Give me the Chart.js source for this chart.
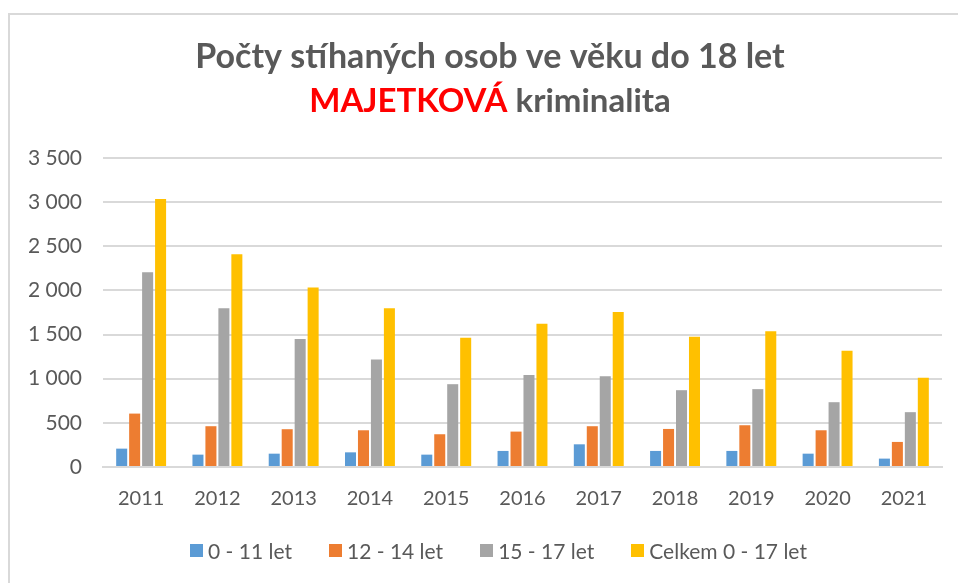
<!DOCTYPE html>
<html lang="cs">

<head>
    <meta charset="UTF-8">
    <title>Počty stíhaných osob - majetková kriminalita</title>
    <style>
        body { margin: 0; background: #fff; overflow: hidden; font-family: Lato, sans-serif; }
        #frame {
            position: absolute; left: 8px; top: 13px; width: 1000px; height: 1000px;
            border: 2px solid #d9d9d9; box-sizing: border-box;
        }
        #wrap { position: absolute; left: 0; top: 0; width: 958px; height: 583px; }
        #legend {
            position: absolute; left: 190px; top: 537px; height: 26px;
            display: flex; align-items: center; gap: 37px;
            color: #595959; font-size: 21px; white-space: nowrap;
        }
        #legend .item { display: flex; align-items: center; }
        #legend .box { width: 13px; height: 13px; margin-right: 5px; }
    </style>
</head>

<body>
    <div id="frame"></div>
    <div id="wrap">
        <canvas id="myChart"></canvas>
    </div>
    <div id="legend"></div>

    <script src="https://cdn.jsdelivr.net/npm/chart.js"></script>
    <script>
        // data
        const years = ["2011", "2012", "2013", "2014", "2015", "2016", "2017", "2018", "2019", "2020", "2021"];
        const age0_11 = [208, 140, 151, 166, 140, 182, 257, 182, 182, 151, 95];
        const age12_14 = [605, 462, 428, 416, 371, 401, 462, 431, 473, 416, 284];
        const age15_17 = [2206, 1797, 1449, 1218, 938, 1041, 1029, 870, 882, 734, 621];
        const total0_17 = [3035, 2410, 2032, 1797, 1464, 1623, 1756, 1476, 1537, 1317, 1010];

        const titleLine1 = "Počty stíhaných osob ve věku do 18 let";
        const titleRed = "MAJETKOVÁ";
        const titleRest = " kriminalita";

        const grey = "#595959";
        const fontName = "Lato";

        // title with two colours on the second line
        const titlePlugin = {
            id: "twoColourTitle",
            afterDraw(chart) {
                const c = chart.ctx;
                c.save();
                c.font = "bold 34px " + fontName;
                c.textBaseline = "alphabetic";
                c.fillStyle = grey;
                c.textAlign = "center";
                c.fillText(titleLine1, 490, 68);

                c.font = "bold 33px " + fontName;
                let w1 = c.measureText(titleRed).width;
                let w2 = c.measureText(titleRest).width;
                let x0 = 490 - (w1 + w2) / 2;
                c.textAlign = "left";
                c.fillStyle = "#ff0000";
                c.fillText(titleRed, x0, 112);
                c.fillStyle = grey;
                c.fillText(titleRest, x0 + w1, 112);
                c.restore();
            }
        };

        function thousands(v) {
            return String(v).replace(/\B(?=(\d{3})+(?!\d))/g, " ");
        }

        const ctx = document.getElementById("myChart");

        let v_chart = new Chart(ctx, {
            type: 'bar',
            data: {
                labels: years,
                datasets: [
                    { label: '0 - 11 let', data: age0_11, backgroundColor: '#5b9bd5' },
                    { label: '12 - 14 let', data: age12_14, backgroundColor: '#ed7d31' },
                    { label: '15 - 17 let', data: age15_17, backgroundColor: '#a5a5a5' },
                    { label: 'Celkem 0 - 17 let', data: total0_17, backgroundColor: '#ffc000' }
                ]
            },
            options: {
                responsive: true,
                maintainAspectRatio: false,
                animation: false,
                categoryPercentage: 0.68,
                barPercentage: 0.85,
                layout: {
                    padding: { top: 158, right: 16, left: 0, bottom: 52 }
                },
                plugins: {
                    legend: { display: false },
                    tooltip: { enabled: false }
                },
                scales: {
                    x: {
                        grid: { display: false, drawTicks: false },
                        border: { color: '#d9d9d9', width: 2 },
                        ticks: {
                            color: grey,
                            font: { family: fontName, size: 20 },
                            padding: 20
                        }
                    },
                    y: {
                        min: 0,
                        max: 3500,
                        afterFit(scale) { scale.width = 103; },
                        grid: { color: '#d9d9d9', lineWidth: 2, drawTicks: false },
                        border: { display: false },
                        ticks: {
                            stepSize: 500,
                            color: grey,
                            font: { family: fontName, size: 21 },
                            padding: 21,
                            callback: function (v) { return thousands(v); }
                        }
                    }
                }
            },
            plugins: [titlePlugin]
        });

        // legend built from the datasets
        const legendDiv = document.getElementById("legend");
        v_chart.data.datasets.forEach(function (ds) {
            let item = document.createElement("div");
            item.className = "item";
            let box = document.createElement("span");
            box.className = "box";
            box.style.background = ds.backgroundColor;
            let txt = document.createElement("span");
            txt.textContent = ds.label;
            item.appendChild(box);
            item.appendChild(txt);
            legendDiv.appendChild(item);
        });
    </script>

</body>

</html>
